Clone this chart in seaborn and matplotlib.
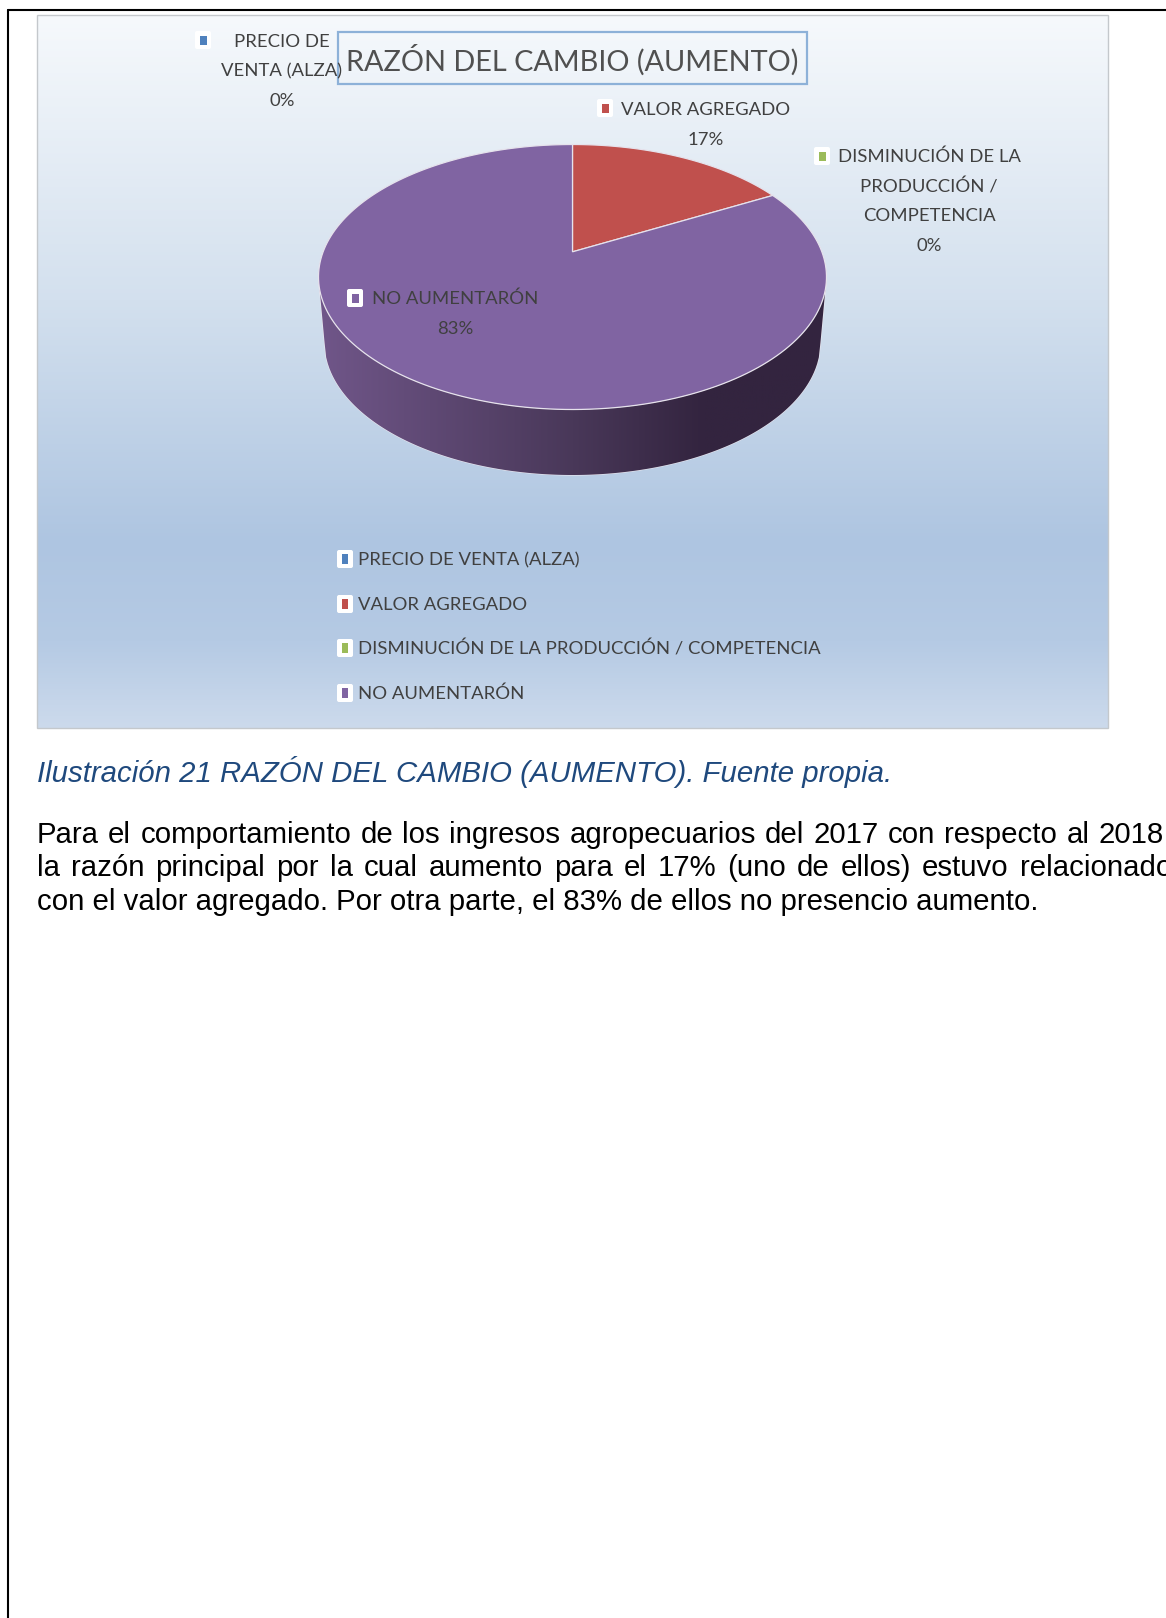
import numpy as np
import matplotlib
matplotlib.use('Agg')
import matplotlib.pyplot as plt
import seaborn as sns
from matplotlib.colors import LinearSegmentedColormap
from matplotlib.patches import FancyBboxPatch, Polygon, Rectangle

categories = ['PRECIO DE VENTA (ALZA)', 'VALOR AGREGADO',
              'DISMINUCIÓN DE LA PRODUCCIÓN / COMPETENCIA', 'NO AUMENTARÓN']
values = [0, 17, 0, 83]
colors = ['#4F81BD', '#C0504D', '#9BBB59', '#8064A2']
title = 'RAZÓN DEL CAMBIO (AUMENTO)'
caption = 'Ilustración 21 RAZÓN DEL CAMBIO (AUMENTO). Fuente propia.'
body = ['Para el comportamiento de los ingresos agropecuarios del 2017 con respecto al 2018,',
        'la razón principal por la cual aumento para el 17% (uno de ellos) estuvo relacionado',
        'con el valor agregado. Por otra parte, el 83% de ellos no presencio aumento.']

sns.set_theme(style='white')
plt.rcParams['font.family'] = ['Lato', 'DejaVu Sans']

W, H = 1166, 1618
fig = plt.figure(figsize=(W / 100, H / 100), dpi=100, facecolor='white')
ax = fig.add_axes([0, 0, 1, 1])
ax.set_axis_off()

# page frame
ax.plot([8, 8], [H, 10], color='black', lw=1.5, zorder=1)
ax.plot([8, W], [10, 10], color='black', lw=1.5, zorder=1)

# chart background
bg = LinearSegmentedColormap.from_list('bg', [(0, '#f6f9fc'), (0.40, '#d3e0ee'), (0.74, '#aec5e1'),
                                              (0.88, '#b5cae4'), (1, '#ccdaec')])
ax.imshow(np.linspace(0, 1, 256).reshape(-1, 1), cmap=bg, extent=(37, 1108, 728, 15), aspect='auto', zorder=1)
ax.add_patch(Rectangle((37, 15), 1071, 713, fill=False, ec='#c4c8cc', lw=1, zorder=2))

# pie geometry in pixels
cx, cy, rx, ry = 572.5, 277, 254, 132.5
cx2, cy2, rx2, ry2 = 572.5, 342, 248, 133
tilt = 0.19


def warp(x, y):
    # perspective: circle stays a circle, the centre moves up
    d = 1 + tilt * y
    return x * np.sqrt(1 - tilt ** 2) / d, (y + tilt) / d


# side wall
u = np.linspace(-1, 1, 300)
top_edge = np.c_[cx + rx * u, cy + ry * np.sqrt(1 - u ** 2)]
low_edge = np.c_[cx2 + rx2 * u, cy2 + ry2 * np.sqrt(1 - u ** 2)][::-1]
wall = Polygon(np.r_[top_edge, low_edge], closed=True, fc='none', ec='#ece8f0', lw=0.8, zorder=3)
ax.add_patch(wall)
side = LinearSegmentedColormap.from_list('side', [(0, '#705689'), (0.5, '#493859'), (0.76, '#33243f'), (1, '#33243f')])
im = ax.imshow(np.linspace(0, 1, 256).reshape(1, -1), cmap=side,
               extent=(cx - rx, cx + rx, cy2 + ry2, cy), aspect='auto', zorder=3)
im.set_clip_path(wall)

# pie top
wedges, _ = ax.pie(values, colors=colors, startangle=90, counterclock=False)
for w, v, c in zip(wedges, values, colors):
    th = np.radians(np.linspace(w.theta1, w.theta2, 200))
    px = np.r_[0, np.cos(th)]
    py = np.r_[0, np.sin(th)]
    px, py = warp(px, py)
    w.remove()
    if v > 0:
        ax.add_patch(Polygon(np.c_[cx + rx * px, cy - ry * py], closed=True, fc=c, ec='#e6e2ec', lw=0.9, zorder=4))

ax.set_aspect('auto')
ax.set_xlim(0, W)
ax.set_ylim(H, 0)
ax.set_axis_off()

# title
ax.add_patch(Rectangle((338, 32), 469, 52, fill=False, ec='#8db1d8', lw=1.6, zorder=5))
ax.text(572, 60, title, fontsize=20.8, color='#505050', ha='center', va='center', zorder=6)


def marker(x, y, c, bw, bh, iw, ih):
    ax.add_patch(FancyBboxPatch((x - bw / 2 + 2, y - bh / 2 + 2), bw - 4, bh - 4, boxstyle='round,pad=2',
                                fc='white', ec='none', zorder=6))
    ax.add_patch(Rectangle((x - iw / 2, y - ih / 2), iw, ih, fc=c, ec='none', zorder=7))


# data labels
label_lines = [['PRECIO DE', 'VENTA (ALZA)', '0%'], ['VALOR AGREGADO', '17%'],
               ['DISMINUCIÓN DE LA', 'PRODUCCIÓN /', 'COMPETENCIA', '0%'], ['NO AUMENTARÓN', '83%']]
label_x = [282, 706, 929, 455]
label_y = [41, 109, 156, 298]
marker_x = [203, 605, 822, 355]
marker_y = [40, 108, 156, 298]
for lines, lx, ly, mx, my, c in zip(label_lines, label_x, label_y, marker_x, marker_y, colors):
    for i, s in enumerate(lines):
        ax.text(lx, ly + 1 + i * 29.7, s, fontsize=13.3, color='#404040', ha='center', va='center', zorder=6)
    marker(mx, my, c, 16, 18, 7, 9)

# legend
legend_y = [559, 604, 648, 693]
for s, ly, c in zip(categories, legend_y, colors):
    marker(345, ly, c, 16, 18, 6, 10)
    ax.text(358, ly + 1, s, fontsize=13.3, color='#404040', ha='left', va='center', zorder=6)

# caption and justified body text
ax.text(37, 772, caption, fontsize=21.15, style='italic', family='Liberation Sans', color='#1F497D',
        ha='left', va='center')

renderer = fig.canvas.get_renderer()
body_y = [835, 868, 902]
right = 1172
for k, (line, by) in enumerate(zip(body, body_y)):
    words = line.split(' ')
    kw = dict(fontsize=21.15, family='Liberation Sans', color='black', ha='left', va='center')
    if k == len(body) - 1:
        ax.text(37, by, line, **kw)
        continue
    items = [ax.text(0, by, w, **kw) for w in words]
    widths = [t.get_window_extent(renderer).width for t in items]
    gap = (right - 37 - sum(widths)) / (len(words) - 1)
    x = 37
    for t, wd in zip(items, widths):
        t.set_x(x)
        x += wd + gap

fig.savefig('out.png', dpi=100)
